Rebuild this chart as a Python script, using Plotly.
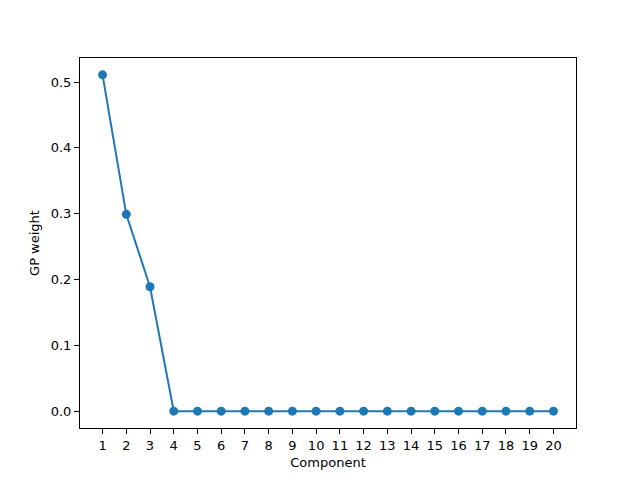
import plotly.graph_objects as go

components = list(range(1, 21))
weights = [0.511, 0.299, 0.189] + [0.0] * 17
y_ticks = [0.0, 0.1, 0.2, 0.3, 0.4, 0.5]
y_tick_labels = ["0.0", "0.1", "0.2", "0.3", "0.4", "0.5"]

fig = go.Figure(go.Scatter(
    x=components, y=weights, mode="lines+markers",
    line=dict(color="#1f77b4", width=2),
    marker=dict(color="#1f77b4", size=9),
))

axis_common = dict(
    showgrid=False, zeroline=False, showline=True, mirror=True,
    linecolor="black", linewidth=1, ticks="outside", ticklen=5,
    tickcolor="black", tickfont=dict(size=13, color="black"),
)
fig.update_layout(
    width=632, height=472,
    margin=dict(l=72, r=64, t=50, b=45),
    paper_bgcolor="white", plot_bgcolor="white",
    font=dict(family="DejaVu Sans", size=13, color="black"),
    showlegend=False,
    xaxis=dict(range=[0.05, 20.95], tickmode="array", tickvals=components,
               title=dict(text="Component", standoff=6, font=dict(size=13)), **axis_common),
    yaxis=dict(range=[-0.0256, 0.5366], tickmode="array", tickvals=y_ticks,
               ticktext=y_tick_labels,
               title=dict(text="GP weight", standoff=8, font=dict(size=13)), **axis_common),
)
fig.write_html("out.html")
